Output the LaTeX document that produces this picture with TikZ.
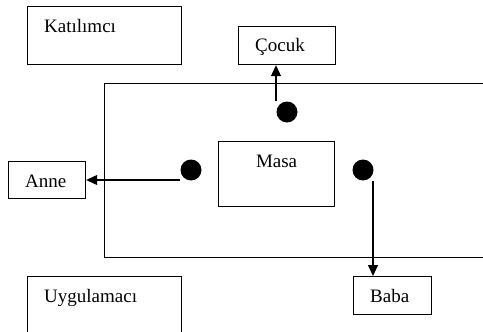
\documentclass[tikz,border=0pt]{standalone}
\usepackage{fontspec}
\setmainfont{Liberation Serif}
\usetikzlibrary{positioning,arrows.meta}
\tikzset{
  box/.style={draw,line width=1.2pt,inner sep=0,anchor=north west},
  lbl/.style={anchor=base west,inner sep=0,font=\fontsize{19}{22}\selectfont},
  spot/.style={circle,fill,inner sep=0,minimum size=21pt},
  arr/.style={line width=1.1pt,-{Triangle[length=11pt,width=10pt]}}
}
\newcommand{\tbox}[6]{% x, y, width, height, name, label   (text box, label at top left)
  \node[box,minimum width=#3pt,minimum height=#4pt] (#5) at (#1,#2) {};
  \node[lbl] (#5-t) at ([xshift=17pt,yshift=-26pt]#5.north west) {#6};}
\begin{document}
\begin{tikzpicture}[x=1pt,y=-1pt]
  \useasboundingbox (0,0) rectangle (483,332);
  % corner boxes
  \tbox{27}{6}{154}{58}{kat}{Katılımcı}
  \tbox{27}{276}{154}{58}{uyg}{Uygulamacı}
  % room and table
  \node[box,minimum width=391pt,minimum height=174pt] (oda) at (104,83) {};
  \node[box,minimum width=116pt,minimum height=65pt] (masa) at (218,141) {};
  \node[lbl,anchor=base] (masa-t) at ([yshift=-26pt]masa.north) {Masa};
  % seats
  \node[spot] (dtop) at (287,112) {};
  \node[spot] (dleft) at (191,170) {};
  \node[spot] (dright) at (363,170) {};
  % people
  \tbox{238}{26}{97}{38}{cocuk}{Çocuk}
  \tbox{8}{161}{77}{37}{anne}{Anne}
  \tbox{353}{276}{78}{38}{baba}{Baba}
  \draw[arr] ([xshift=-11pt]dtop.north) -- ([xshift=-11pt]dtop.north |- cocuk.south);
  \draw[arr] ([yshift=-10pt]dleft.west) -- ([yshift=-10pt]dleft.west -| anne.east);
  \draw[arr] ([xshift=10pt]dright.south) -- ([xshift=10pt]dright.south |- baba.north);
\end{tikzpicture}
\end{document}
